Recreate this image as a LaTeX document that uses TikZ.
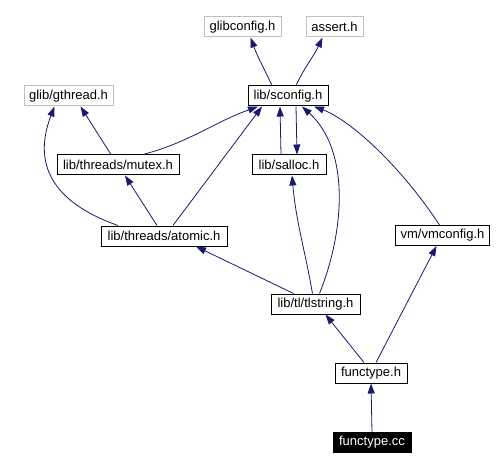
\documentclass[tikz,border=0pt]{standalone}
\usepackage{fontspec}
\setmainfont{Liberation Sans}
\usetikzlibrary{arrows.meta}

\definecolor{depblue}{HTML}{191970}
\definecolor{nodoc}{HTML}{BFBFBF}

\tikzstyle{file}=[draw=black,line width=1pt,minimum height=20pt,inner xsep=5pt,inner ysep=0pt,font=\fontsize{13}{15}\selectfont]
\tikzstyle{ext}=[file,draw=nodoc]
\tikzstyle{self}=[file,fill=black,text=white]
\tikzstyle{dep}=[draw=depblue,line width=0.8pt,-{Triangle[length=10pt,width=7pt]}]

\begin{document}
\begin{tikzpicture}[x=1pt,y=-1pt]
  \useasboundingbox (0,0) rectangle (497,470);

  % headers from outside the project
  \node[ext,minimum width=77pt] (glibconfig) at (242.5,27) {glibconfig.h};
  \node[ext,minimum width=57pt] (assert) at (334.5,27) {assert.h};
  \node[ext,minimum width=89pt] (gthread) at (68.5,96) {glib/gthread.h};

  \node[file,minimum width=80pt] (sconfig) at (288,96) {lib/sconfig.h};
  \node[file,minimum width=122pt] (mutex) at (118,165) {lib/threads/mutex.h};
  \node[file,minimum width=74pt] (salloc) at (289,165) {lib/salloc.h};
  \node[file,minimum width=126pt] (atomic) at (164,236) {lib/threads/atomic.h};
  \node[file,minimum width=87pt] (vmconfig) at (442.5,235.5) {vm/vmconfig.h};
  \node[file,minimum width=89pt] (tlstring) at (315.5,304) {lib/tl/tlstring.h};
  \node[file,minimum width=72pt] (functypeh) at (371,373) {functype.h};
  \node[self,minimum width=78pt] (functypecc) at (372,442.5) {functype.cc};

  \draw[dep] ([xshift=-16pt]sconfig.north) to[out=115,in=-70] ([xshift=8pt]glibconfig.south);
  \draw[dep] ([xshift=8pt]sconfig.north) to[out=65,in=-115] ([xshift=-12pt]assert.south);

  \draw[dep] ([xshift=-7pt]mutex.north) -- ([xshift=12pt]gthread.south);
  \draw[dep] ([xshift=25pt]mutex.north) to[out=15,in=-160] ([xshift=-30pt]sconfig.south);
  \draw[dep] ([xshift=-46pt]atomic.north) .. controls (60,205) and (30,170) .. ([xshift=-14pt]gthread.south);
  \draw[dep] ([xshift=-7pt]atomic.north) -- ([xshift=7pt]mutex.south);
  \draw[dep] ([xshift=9pt]atomic.north) -- ([xshift=-26pt]sconfig.south);

  \draw[dep] ([xshift=-8pt]salloc.north) -- ([xshift=-8pt]sconfig.south);
  \draw[dep] ([xshift=8pt]sconfig.south) -- ([xshift=8pt]salloc.north);

  \draw[dep] ([xshift=-22pt]tlstring.north) -- ([xshift=32pt]atomic.south);
  \draw[dep] ([xshift=-3pt]tlstring.north) to[out=100,in=-85] ([xshift=3pt]salloc.south);
  \draw[dep] ([xshift=4pt]tlstring.north) .. controls (345,230) and (350,150) .. ([xshift=14pt]sconfig.south);
  \draw[dep] ([xshift=-3pt]vmconfig.north) .. controls (400,165) and (350,120) .. ([xshift=26pt]sconfig.south);

  \draw[dep] ([xshift=-7pt]functypeh.north) -- ([xshift=10pt]tlstring.south);
  \draw[dep] ([xshift=5pt]functypeh.north) -- ([xshift=-6pt]vmconfig.south);
  \draw[dep] (functypecc.north) -- (functypeh.south);
\end{tikzpicture}
\end{document}
